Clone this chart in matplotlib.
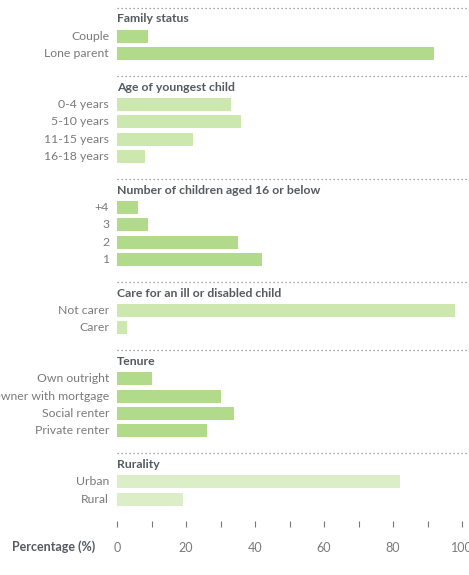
import matplotlib
matplotlib.use("Agg")
import matplotlib.pyplot as plt
from matplotlib.ticker import MultipleLocator

plt.rcParams['font.family'] = ['Lato', 'DejaVu Sans']

# ---- data ----
sec_titles = ["Family status", "Age of youngest child",
              "Number of children aged 16 or below",
              "Care for an ill or disabled child", "Tenure", "Rurality"]
family_labels = ["Couple", "Lone parent"]
family_values = [9, 92]
age_labels = ["0-4 years", "5-10 years", "11-15 years", "16-18 years"]
age_values = [33, 36, 22, 8]
children_labels = ["+4", "3", "2", "1"]
children_values = [6, 9, 35, 42]
carer_labels = ["Not carer", "Carer"]
carer_values = [98, 3]
tenure_labels = ["Own outright", "Owner with mortgage", "Social renter", "Private renter"]
tenure_values = [10, 30, 34, 26]
rural_labels = ["Urban", "Rural"]
rural_values = [82, 19]
x_ticks = [0, 20, 40, 60, 80, 100]

sections = [
    (family_labels, family_values, "#b1da8a"),
    (age_labels, age_values, "#cde8af"),
    (children_labels, children_values, "#b1da8a"),
    (carer_labels, carer_values, "#cde8af"),
    (tenure_labels, tenure_values, "#b1da8a"),
    (rural_labels, rural_values, "#dceec8"),
]

W, H = 469, 575
fig = plt.figure(figsize=(W / 100, H / 100), dpi=100)
ax_bottom_px = 521
ax = fig.add_axes([117 / W, 1 - ax_bottom_px / H, 345 / W, ax_bottom_px / H])
ax.set_xlim(0, 100)
ax.set_ylim(ax_bottom_px, 0)

row = 17.3
sep = 7.5
label_color = "#7a7a7a"
head_color = "#555a5e"
for (labels, values, color), title in zip(sections, sec_titles):
    ax.plot([0, 102], [sep, sep], linestyle=(0, (1, 2.2)), color="#888888",
            lw=0.9, clip_on=False)
    ax.text(0, sep + 11.5, title, fontsize=8.8, fontweight='bold',
            color=head_color, va='center', ha='left')
    ys = [sep + 28.6 + i * row for i in range(len(labels))]
    ax.barh(ys, values, height=13, color=color, left=0)
    for y, lab in zip(ys, labels):
        ax.text(-2.3, y, lab, fontsize=8.8, color=label_color,
                va='center', ha='right', clip_on=False)
    sep = ys[-1] + 22.5

for s in ax.spines.values():
    s.set_visible(False)
ax.set_yticks([])
ax.xaxis.set_major_locator(MultipleLocator(20))
ax.xaxis.set_minor_locator(MultipleLocator(10))
ax.set_xticks(x_ticks)
ax.set_xticklabels([str(t) for t in x_ticks])
ax.tick_params(axis='x', which='both', direction='out', length=4.3,
               width=0.8, color="#777777")
ax.tick_params(axis='x', which='major', pad=11, labelsize=9,
               labelcolor=label_color)

fig.text(12 / W, 1 - 547 / H, "Percentage (%)", fontsize=9,
         fontweight='bold', color=head_color, va='center', ha='left')

fig.savefig("out.png", dpi=100)
